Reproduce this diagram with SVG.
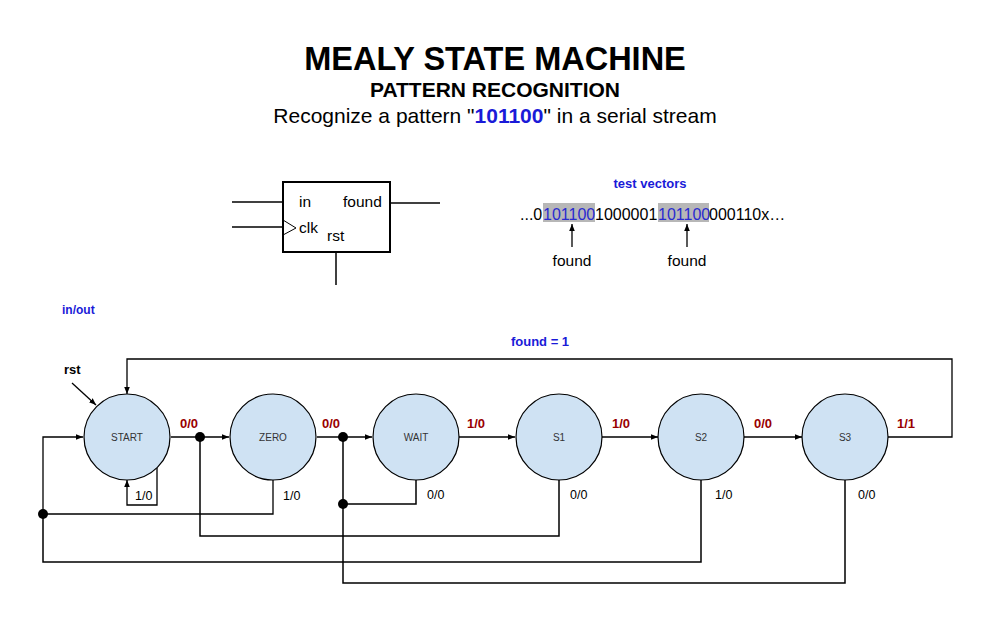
<svg xmlns="http://www.w3.org/2000/svg" width="989" height="632" viewBox="0 0 989 632">
<style>
text{font-family:"Liberation Sans",Arial,sans-serif;}
.t1{font-size:32.5px;font-weight:bold;fill:#000;}
.t2{font-size:21px;font-weight:bold;fill:#000;}
.t3{font-size:21px;fill:#000;}
.blue{fill:#1a1ad8;}
.hb{font-size:13px;font-weight:bold;fill:#1a1ad8;}
.lbl{font-size:15.5px;fill:#000;}
.st{fill:#cfe2f3;stroke:#000;stroke-width:1.2;}
.sn{font-size:10px;fill:#333;text-anchor:middle;}
.red{font-size:13px;font-weight:bold;fill:#990000;}
.io{font-size:12.5px;fill:#000;}
.ln{fill:none;stroke:#000;stroke-width:1.5;}
.ar{fill:none;stroke:#000;stroke-width:1.3;marker-end:url(#ah);}
.dot{fill:#000;}
</style>
<defs>
<marker id="ah" viewBox="0 0 10 10" refX="10" refY="5" markerWidth="7" markerHeight="7" markerUnits="userSpaceOnUse" orient="auto">
<path d="M0,1 L10,5 L0,9 Z" fill="#000"/>
</marker>
</defs>
<rect width="989" height="632" fill="#fff"/>
<g id="title">
<text class="t1" x="495" y="70" text-anchor="middle">MEALY STATE MACHINE</text>
<text class="t2" x="495" y="97" text-anchor="middle">PATTERN RECOGNITION</text>
<text class="t3" x="495" y="123" text-anchor="middle">Recognize a pattern "<tspan font-weight="bold" class="blue">101100</tspan>" in a serial stream</text>
</g>
<g id="block">
<rect x="283" y="182" width="107" height="70" fill="#fff" stroke="#000" stroke-width="2"/>
<line class="ln" x1="232" y1="202" x2="283" y2="202" stroke-width="2"/>
<line class="ln" x1="232" y1="227" x2="283" y2="227" stroke-width="2"/>
<polyline points="283,220 296,228 283,235" fill="none" stroke="#000" stroke-width="1"/>
<line class="ln" x1="390" y1="203" x2="440" y2="203" stroke-width="2"/>
<line class="ln" x1="336" y1="252" x2="336" y2="285" stroke-width="2"/>
<text class="lbl" x="299" y="207">in</text>
<text class="lbl" x="343" y="207">found</text>
<text class="lbl" x="299" y="233">clk</text>
<text class="lbl" x="327" y="241">rst</text>
</g>
<g id="testvectors">
<text class="hb" x="650" y="188" text-anchor="middle">test vectors</text>
<rect x="543" y="203" width="52" height="19" fill="#b7b7b7"/>
<rect x="658" y="203" width="51" height="19" fill="#b7b7b7"/>
<text class="lbl" y="220" style="font-size:16px"><tspan x="520">...0</tspan><tspan x="543" fill="#2a2ad0">101100</tspan><tspan x="595">1000001</tspan><tspan x="658" fill="#2a2ad0">101100</tspan><tspan x="709">000110x…</tspan></text>
<line class="ar" x1="572" y1="247" x2="572" y2="224"/>
<line class="ar" x1="687" y1="247" x2="687" y2="224"/>
<text class="lbl" x="572" y="266" text-anchor="middle">found</text>
<text class="lbl" x="687" y="266" text-anchor="middle">found</text>
</g>
<text class="hb" x="62" y="314" style="font-size:12px">in/out</text>
<text x="64" y="374" style="font-size:13px;font-weight:bold">rst</text>
<text class="hb" x="540" y="346" text-anchor="middle">found = 1</text>
<g id="connectors">
<path class="ar" d="M72,383 L96,405"/>
<path class="ar" d="M171,437 H229"/>
<path class="ar" d="M317,437 H372"/>
<path class="ar" d="M459,437 H515"/>
<path class="ar" d="M602,437 H658"/>
<path class="ar" d="M744,437 H802"/>
<path class="ar" d="M888,437 H952 V359 H127 V394"/>
<path class="ar" d="M157,468 V505 H127 V480"/>
<path class="ar" d="M273,480 V514 H43 V437 H83"/>
<path class="ln" d="M701,480 V562 H43 V514"/>
<path class="ln" d="M416,480 V504 H343"/>
<path class="ln" d="M845,480 V583 H343 V437"/>
<path class="ln" d="M559,480 V536 H200 V437"/>
<circle class="dot" cx="200" cy="437" r="5"/>
<circle class="dot" cx="343" cy="437" r="5"/>
<circle class="dot" cx="343" cy="504" r="5"/>
<circle class="dot" cx="43" cy="514" r="5"/>
</g>
<g id="labels">
<text class="red" x="180" y="428">0/0</text>
<text class="red" x="322" y="428">0/0</text>
<text class="red" x="467" y="428">1/0</text>
<text class="red" x="612" y="428">1/0</text>
<text class="red" x="754" y="428">0/0</text>
<text class="red" x="897" y="428">1/1</text>
<text class="io" x="135" y="500">1/0</text>
<text class="io" x="283" y="500">1/0</text>
<text class="io" x="427" y="499">0/0</text>
<text class="io" x="570" y="499">0/0</text>
<text class="io" x="715" y="499">1/0</text>
<text class="io" x="858" y="499">0/0</text>
</g>
<g id="START"><circle class="st" cx="127" cy="437" r="43"/><text class="sn" x="127" y="441">START</text></g>
<g id="ZERO"><circle class="st" cx="273" cy="437" r="43"/><text class="sn" x="273" y="441">ZERO</text></g>
<g id="WAIT"><circle class="st" cx="416" cy="437" r="43"/><text class="sn" x="416" y="441">WAIT</text></g>
<g id="S1"><circle class="st" cx="559" cy="437" r="43"/><text class="sn" x="559" y="441">S1</text></g>
<g id="S2"><circle class="st" cx="701" cy="437" r="43"/><text class="sn" x="701" y="441">S2</text></g>
<g id="S3"><circle class="st" cx="845" cy="437" r="43"/><text class="sn" x="845" y="441">S3</text></g>
</svg>
